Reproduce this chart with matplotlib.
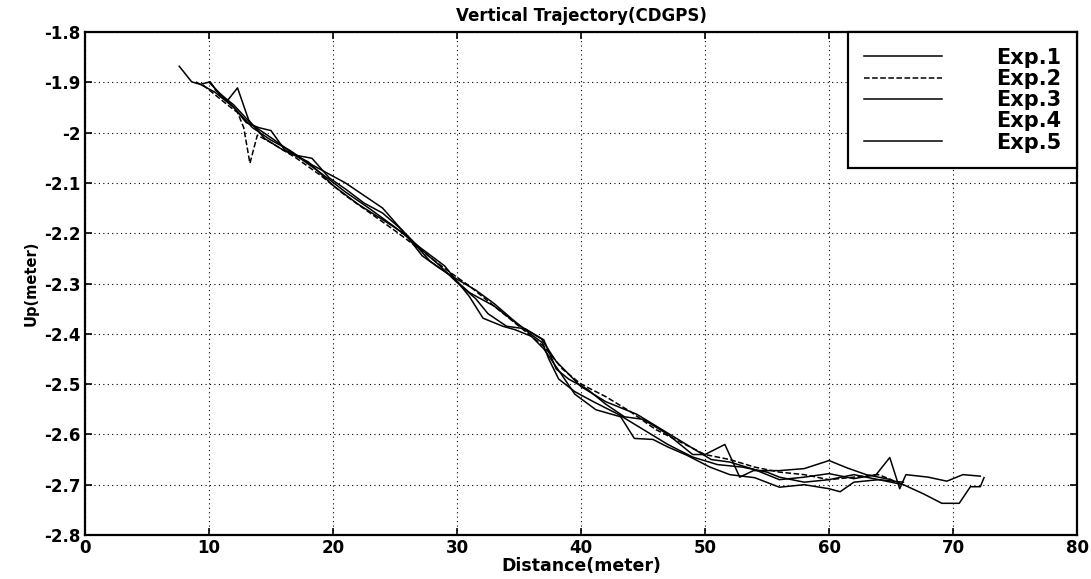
"""Vertical trajectory (CDGPS) - five experiment runs, Up vs Distance."""
import matplotlib
matplotlib.use('Agg')
import matplotlib.pyplot as plt

# Data (distance in meter, up in meter)
dist1 = [7.6, 8.6, 9.3, 10.1, 11.0, 11.5, 12.3, 13.2, 14.5, 16.0, 18.0, 20.0, 22.0, 24.0,
         26.0, 27.8, 29.5, 31.0, 33.0, 35.0, 36.8, 38.0, 40.0, 42.0, 44.5, 46.5, 48.5,
         50.5, 52.0, 54.0, 56.0, 58.0, 60.0, 62.0, 63.8, 64.9, 65.7, 66.2, 68.0, 69.5,
         70.8, 72.2]
up1 = [-1.868, -1.899, -1.904, -1.899, -1.930, -1.936, -1.911, -1.975, -2.012, -2.035,
       -2.058, -2.105, -2.142, -2.173, -2.205, -2.255, -2.285, -2.318, -2.345, -2.383,
       -2.410, -2.455, -2.505, -2.535, -2.560, -2.590, -2.620, -2.650, -2.655, -2.670,
       -2.690, -2.685, -2.678, -2.688, -2.680, -2.646, -2.708, -2.680, -2.685, -2.693,
       -2.680, -2.683]

dist2 = [9.5, 10.5, 11.5, 12.3, 12.8, 13.3, 13.9, 15.0, 17.0, 19.0, 21.0, 23.0, 25.0,
         27.0, 29.0, 31.0, 33.0, 35.0, 37.0, 38.5, 40.0, 42.0, 44.0, 46.0, 48.0, 50.0,
         52.0, 54.0, 56.0, 58.0, 60.0, 62.0, 64.0, 66.0]
up2 = [-1.905, -1.925, -1.945, -1.960, -1.990, -2.061, -2.005, -2.020, -2.050, -2.085,
       -2.125, -2.160, -2.195, -2.232, -2.270, -2.305, -2.345, -2.385, -2.425, -2.470,
       -2.500, -2.525, -2.555, -2.590, -2.615, -2.640, -2.650, -2.665, -2.675, -2.680,
       -2.690, -2.685, -2.680, -2.700]

dist3 = [10.0, 11.0, 12.0, 13.0, 14.0, 15.0, 16.1, 17.0, 18.3, 19.7, 21.0, 22.5, 24.0,
         25.5, 27.0, 28.5, 30.0, 31.5, 32.5, 34.0, 35.5, 37.0, 38.0, 39.0, 40.5, 42.0,
         43.5, 45.0, 47.0, 49.0, 50.0, 51.6, 52.8, 53.9, 56.0, 58.0, 60.0, 61.5, 63.0,
         65.0]
up3 = [-1.900, -1.925, -1.950, -1.980, -1.990, -1.996, -2.034, -2.045, -2.051, -2.090,
       -2.112, -2.140, -2.160, -2.192, -2.230, -2.262, -2.298, -2.330, -2.360, -2.385,
       -2.390, -2.412, -2.470, -2.490, -2.510, -2.540, -2.565, -2.570, -2.600, -2.640,
       -2.640, -2.620, -2.685, -2.672, -2.672, -2.668, -2.652, -2.667, -2.680, -2.690]

dist4 = [10.5, 12.0, 13.5, 15.0, 17.0, 19.0, 21.0, 23.0, 25.0, 27.0, 29.0, 31.0, 32.1,
         33.7, 34.7, 36.0, 37.0, 38.4, 39.5, 41.2, 43.2, 44.3, 45.8, 47.0, 48.5, 50.4,
         52.0, 54.0, 56.0, 58.0, 60.0, 60.9, 62.0, 64.0, 66.0]
up4 = [-1.915, -1.945, -1.985, -2.010, -2.045, -2.080, -2.118, -2.152, -2.188, -2.228,
       -2.265, -2.326, -2.369, -2.385, -2.392, -2.405, -2.430, -2.480, -2.520, -2.551,
       -2.565, -2.608, -2.610, -2.625, -2.641, -2.665, -2.680, -2.686, -2.705, -2.700,
       -2.708, -2.714, -2.695, -2.690, -2.695]

dist5 = [9.0, 10.5, 12.0, 13.5, 15.0, 16.5, 18.0, 19.5, 21.0, 22.5, 24.0, 25.6, 27.2,
         28.5, 29.9, 31.5, 33.0, 34.5, 35.8, 36.9, 37.4, 38.2, 39.5, 41.0, 43.0, 45.0,
         47.0, 49.0, 51.0, 53.0, 55.0, 56.0, 58.0, 60.0, 62.0, 64.0, 66.0, 67.6, 69.1,
         70.5, 71.4, 72.2, 72.5]
up5 = [-1.900, -1.920, -1.950, -1.990, -2.015, -2.035, -2.060, -2.080, -2.100, -2.125,
       -2.150, -2.195, -2.245, -2.268, -2.290, -2.313, -2.340, -2.372, -2.398, -2.418,
       -2.450, -2.490, -2.515, -2.535, -2.560, -2.590, -2.620, -2.645, -2.660, -2.665,
       -2.675, -2.685, -2.695, -2.690, -2.680, -2.690, -2.700, -2.718, -2.737, -2.737,
       -2.704, -2.704, -2.686]

labels = ['Exp.1', 'Exp.2', 'Exp.3', 'Exp.4', 'Exp.5']
x_ticks = [0, 10, 20, 30, 40, 50, 60, 70, 80]
y_ticks = [-2.8, -2.7, -2.6, -2.5, -2.4, -2.3, -2.2, -2.1, -2, -1.9, -1.8]
y_ticklabels = ['-2.8', '-2.7', '-2.6', '-2.5', '-2.4', '-2.3', '-2.2', '-2.1', '-2', '-1.9', '-1.8']

plt.rcParams['font.family'] = ['DejaVu Sans']
plt.rcParams['font.weight'] = 'bold'

fig = plt.figure(figsize=(10.91, 5.79), dpi=100)
ax = fig.add_axes([0.0779, 0.076, 0.9093, 0.8687])

series = [(dist1, up1, '-'), (dist2, up2, '--'), (dist3, up3, '-'),
          (dist4, up4, '-'), (dist5, up5, '-')]
for (d, u, ls), lab in zip(series, labels):
    ax.plot(d, u, color='black', linestyle=ls, linewidth=1.1, label=lab)

ax.set_xlim(0, 80)
ax.set_ylim(-2.8, -1.8)
ax.set_xticks(x_ticks)
ax.set_yticks(y_ticks)
ax.set_yticklabels(y_ticklabels)
ax.tick_params(direction='in', length=5, width=1.2, top=True, right=True,
               labelsize=12, pad=3)
for lab in ax.get_xticklabels() + ax.get_yticklabels():
    lab.set_fontweight('bold')
ax.grid(True, color='black', linestyle=(0, (1, 3)), linewidth=0.8)
for sp in ax.spines.values():
    sp.set_linewidth(1.6)

ax.set_title('Vertical Trajectory(CDGPS)', fontsize=12, fontweight='bold', pad=8)
ax.set_xlabel('Distance(meter)', fontsize=12.5, fontweight='bold', labelpad=0)
ax.set_ylabel('Up(meter)', fontsize=10.5, fontweight='bold', labelpad=4)

leg = ax.legend(loc='upper right', fancybox=False, framealpha=1,
                edgecolor='black', prop={'size': 15, 'weight': 'bold'},
                handlelength=3.75, handletextpad=2.6, labelspacing=0.06,
                borderpad=0.75, borderaxespad=0)
leg.get_frame().set_linewidth(1.6)
leg.get_lines()[3].set_visible(False)  # Exp.4 line is not visible in the original legend

fig.savefig('out.png', dpi=100)
